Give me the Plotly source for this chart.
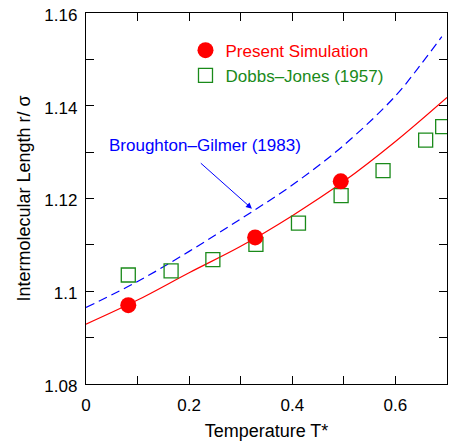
import plotly.graph_objects as go

# Present Simulation (red filled circles)
sim_T = [0.082, 0.328, 0.494]
sim_r = [1.0970, 1.1116, 1.1237]

# Dobbs-Jones (1957) (green open squares)
dj_T = [0.082, 0.165, 0.246, 0.3295, 0.412, 0.4947, 0.576, 0.6586, 0.6916]
dj_r = [1.1035, 1.1044, 1.1068, 1.1101, 1.1147, 1.1206, 1.1260, 1.1326, 1.1355]

# Fit curve through simulation (red solid)
fit_T = [0.0, 0.1, 0.2, 0.3, 0.4, 0.5, 0.6, 0.7]
fit_r = [1.0929, 1.0981, 1.1040, 1.1097, 1.1163, 1.1237, 1.1323, 1.1418]

# Broughton-Gilmer (1983) (blue dashed)
bg_T = [0.0, 0.1, 0.2, 0.3, 0.4, 0.5, 0.6, 0.65, 0.69]
bg_r = [1.0965, 1.1021, 1.1086, 1.1156, 1.1229, 1.1315, 1.1421, 1.1490, 1.1549]

# axis ticks
x_ticks = [0, 0.2, 0.4, 0.6]
x_labels = ["0", "0.2", "0.4", "0.6"]
y_ticks = [1.08, 1.10, 1.12, 1.14, 1.16]
y_labels = ["1.08", "1.1", "1.12", "1.14", "1.16"]

FONT = "Liberation Sans, Arial, sans-serif"

fig = go.Figure()
fig.add_trace(go.Scatter(x=fit_T, y=fit_r, mode="lines", line=dict(color="#ff0000", width=1.2, shape="spline"),
                         showlegend=False, hoverinfo="skip"))
fig.add_trace(go.Scatter(x=bg_T, y=bg_r, mode="lines",
                         line=dict(color="#0000ff", width=1.2, dash="9px,5px", shape="spline"),
                         showlegend=False, hoverinfo="skip"))
fig.add_trace(go.Scatter(x=dj_T, y=dj_r, mode="markers",
                         name="<span style='color:#1a8a1a'>Dobbs\u2013Jones (1957)</span>",
                         marker=dict(symbol="square-open", size=14, color="#1a8a1a", line=dict(width=1.3))))
fig.add_trace(go.Scatter(x=sim_T, y=sim_r, mode="markers",
                         name="<span style='color:#ff0000'>Present Simulation</span>",
                         marker=dict(symbol="circle", size=16, color="#ff0000")))

fig.add_annotation(x=0.3218, y=1.1178, ax=0.2197, ay=1.1279, xref="x", yref="y", axref="x", ayref="y",
                   text="", showarrow=True, arrowhead=2, arrowsize=1.2, arrowwidth=1, arrowcolor="#0000ff")
fig.add_annotation(x=0.2308, y=1.1315, xref="x", yref="y", text="Broughton\u2013Gilmer (1983)",
                   showarrow=False, font=dict(family=FONT, size=17, color="#0000ff"))

axis_common = dict(showgrid=False, zeroline=False, showline=True, linecolor="black", linewidth=1.3,
                   mirror="ticks", ticks="inside", ticklen=8, tickwidth=1, tickcolor="black",
                   tickfont=dict(family=FONT, size=17, color="black"),
                   automargin=False, ticklabeloverflow="allow")

fig.update_xaxes(range=[0, 0.7], tickvals=x_ticks, ticktext=x_labels, ticklabelstandoff=5,
                 minor=dict(dtick=0.1, tick0=0, ticks="inside", ticklen=8, tickwidth=1, tickcolor="black"),
                 title=dict(text="Temperature T*", font=dict(family=FONT, size=18, color="black"), standoff=13),
                 **axis_common)
fig.update_yaxes(range=[1.08, 1.16], tickvals=y_ticks, ticktext=y_labels, ticklabelstandoff=4,
                 ticklabelshift=2,
                 minor=dict(dtick=0.01, tick0=1.08, ticks="inside", ticklen=8, tickwidth=1, tickcolor="black"),
                 title=dict(text="Intermolecular Length r/ \u03c3", font=dict(family=FONT, size=18, color="black"), standoff=9),
                 **axis_common)

fig.update_layout(
    width=451, height=433,
    margin=dict(l=78, r=12, t=5, b=57),
    paper_bgcolor="white", plot_bgcolor="white",
    font=dict(family=FONT, size=17, color="black"),
    legend=dict(x=0.2756, y=0.947, xanchor="left", yanchor="top", bgcolor="rgba(0,0,0,0)",
                font=dict(family=FONT, size=17), traceorder="reversed", itemwidth=30),
)

fig.write_html("out.html")
